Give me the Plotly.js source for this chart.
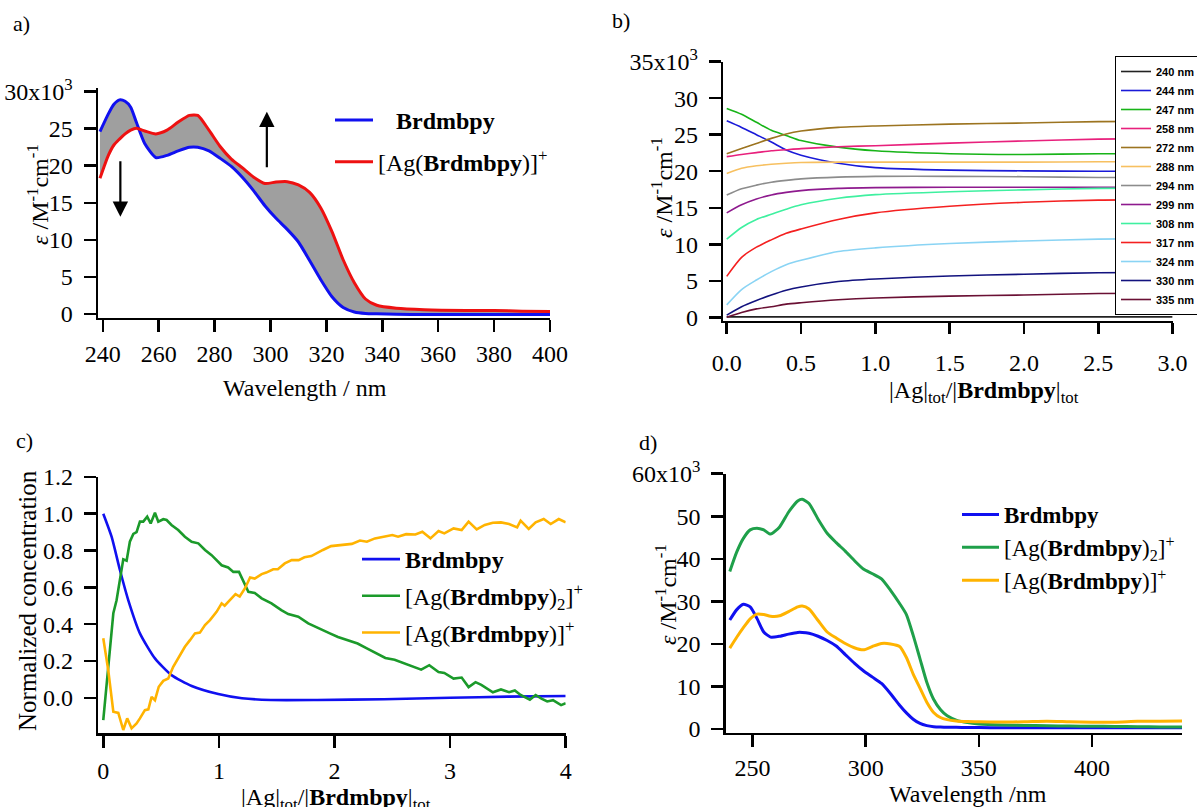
<!DOCTYPE html>
<html><head><meta charset="utf-8">
<script src="https://cdn.plot.ly/plotly-3.0.1.min.js"></script>
<style>html,body{margin:0;padding:0;background:#fff}#chart{width:1197px;height:807px}</style>
</head><body><div id="chart"></div>
<script>
// ---------- Panel a: titration spectra ----------
const wlA = [239,242,244,246,248,250,252,255,259,263,267,271,274,278,282,286,290,294,298,302,306,310,314,318,322,326,330,334,338,345,355,370,380,390,400];
const epsA_free = [24.6,27.0,28.3,28.9,28.7,27.9,25.9,23.0,21.1,21.4,22.0,22.5,22.5,22.0,21.0,19.9,18.4,16.6,14.6,12.9,11.4,9.7,7.2,4.6,2.3,0.85,0.25,0.05,0.0,-0.05,-0.1,-0.1,-0.1,-0.1,-0.1];
const epsA_ag = [18.3,21.4,22.8,23.6,24.3,24.8,25.05,24.7,24.3,24.8,25.9,26.8,26.8,24.8,22.6,20.9,19.7,18.45,17.6,17.8,17.85,17.4,16.4,14.3,11.1,7.3,4.2,2.0,1.15,0.75,0.55,0.45,0.45,0.35,0.3];

// ---------- Panel b: epsilon vs ratio at fixed wavelengths ----------
const ratioB = [0,0.1,0.2,0.3,0.4,0.5,0.75,1.0,1.5,2.0,2.5,3.0];
const labelsB = ['240 nm','244 nm','247 nm','258 nm','272 nm','288 nm','294 nm','299 nm','308 nm','317 nm','324 nm','330 nm','335 nm'];
const colorsB = ['#222222','#1a1ad8','#18b418','#e8207c','#9c7420','#f7c060','#8c8c8c','#8e1a8e','#3ff0a0','#f42020','#8ad4f4','#12127e','#6a1034'];
const eps240 = [0.05,0.05,0.05,0.05,0.05,0.05,0.05,0.05,0.05,0.05,0.05,0.05];
const eps244 = [26.9,26.0,25.0,24.0,22.9,22.2,21.1,20.5,20.15,20.05,20.0,20.0];
const eps247 = [28.6,27.8,26.7,25.6,24.9,24.2,23.3,22.8,22.4,22.3,22.4,22.4];
const eps258 = [22.0,22.3,22.55,22.8,22.95,23.1,23.35,23.5,23.85,24.15,24.4,24.5];
const eps272 = [22.4,23.1,23.8,24.5,25.1,25.5,26.0,26.2,26.45,26.6,26.8,26.85];
const eps288 = [19.7,20.4,20.75,20.95,21.1,21.2,21.25,21.25,21.25,21.25,21.3,21.3];
const eps294 = [16.75,17.6,18.1,18.5,18.75,18.95,19.2,19.3,19.3,19.25,19.15,19.15];
const eps299 = [14.3,15.4,16.2,16.75,17.1,17.35,17.65,17.75,17.8,17.8,17.8,17.8];
const eps308 = [10.7,12.3,13.4,14.1,14.8,15.4,16.3,16.8,17.2,17.45,17.65,17.7];
const eps317 = [5.6,8.2,9.6,10.6,11.5,12.1,13.4,14.3,15.2,15.75,16.05,16.15];
const eps324 = [1.7,3.8,5.1,6.25,7.2,7.8,9.0,9.5,10.1,10.45,10.7,10.8];
const eps330 = [0.3,1.45,2.3,3.05,3.7,4.15,4.9,5.25,5.65,5.9,6.1,6.15];
const eps335 = [0.0,0.65,1.15,1.45,1.8,2.0,2.4,2.65,2.9,3.05,3.25,3.3];
const seriesB = [eps240,eps244,eps247,eps258,eps272,eps288,eps294,eps299,eps308,eps317,eps324,eps330,eps335];

// ---------- Panel c: speciation ----------
const ratioC_L = [0,0.072,0.144,0.216,0.317,0.447,0.59,0.765,0.995,1.2,1.45,1.85,2.43,3.0,3.5,4.0];
const concC_L = [1.0,0.875,0.694,0.531,0.35,0.214,0.123,0.064,0.02,-0.003,-0.012,-0.012,-0.008,0.0,0.006,0.01];
const ratioC_ML2 = [0,0.043,0.087,0.115,0.144,0.173,0.202,0.23,0.26,0.288,0.317,0.346,0.38,0.41,0.447,0.476,0.519,0.548,0.59,0.648,0.706,0.764,0.822,0.88,0.937,0.98,1.024,1.08,1.125,1.174,1.21,1.255,1.31,1.37,1.455,1.54,1.6,1.687,1.773,1.86,1.96,2.03,2.12,2.2,2.28,2.36,2.44,2.52,2.61,2.68,2.75,2.82,2.9,2.95,3.03,3.1,3.16,3.22,3.27,3.37,3.44,3.51,3.56,3.61,3.69,3.74,3.79,3.84,3.89,3.96,4.0];
const concC_ML2 = [-0.121,0.15,0.459,0.53,0.649,0.752,0.745,0.848,0.89,0.90,0.957,0.957,0.984,0.947,1.005,0.957,0.97,0.966,0.939,0.911,0.875,0.848,0.839,0.803,0.775,0.748,0.72,0.708,0.684,0.684,0.639,0.576,0.57,0.54,0.513,0.476,0.455,0.44,0.404,0.377,0.35,0.33,0.31,0.295,0.268,0.24,0.216,0.207,0.185,0.171,0.153,0.177,0.14,0.135,0.104,0.11,0.058,0.085,0.07,0.03,0.045,0.03,0.04,0.015,-0.01,0.015,-0.005,-0.02,-0.013,-0.04,-0.03];
const ratioC_ML = [0,0.043,0.087,0.13,0.173,0.207,0.245,0.288,0.317,0.36,0.39,0.418,0.447,0.48,0.519,0.562,0.605,0.663,0.706,0.75,0.793,0.836,0.88,0.923,0.98,1.024,1.05,1.095,1.144,1.18,1.225,1.27,1.31,1.37,1.41,1.47,1.51,1.57,1.63,1.69,1.74,1.8,1.84,1.9,1.97,2.06,2.15,2.22,2.28,2.35,2.42,2.5,2.55,2.62,2.7,2.76,2.83,2.9,2.95,3.03,3.1,3.16,3.23,3.3,3.37,3.44,3.51,3.58,3.61,3.68,3.74,3.81,3.87,3.94,4.0];
const concC_ML = [0.323,0.15,-0.076,-0.082,-0.175,-0.112,-0.166,-0.139,-0.112,-0.067,-0.063,0.005,-0.013,0.06,0.092,0.105,0.168,0.232,0.277,0.313,0.35,0.354,0.395,0.422,0.467,0.513,0.5,0.53,0.563,0.55,0.594,0.654,0.648,0.672,0.68,0.698,0.698,0.73,0.748,0.748,0.763,0.77,0.785,0.803,0.824,0.83,0.836,0.854,0.848,0.866,0.875,0.884,0.875,0.889,0.887,0.902,0.866,0.906,0.893,0.92,0.911,0.957,0.915,0.939,0.951,0.953,0.944,0.926,0.962,0.917,0.953,0.971,0.944,0.971,0.953];

// ---------- Panel d: species spectra ----------
const wlD = [240,243,246,249,252,255,258,262,266,270,272,275,279,283,287,291,295,299,303,307,311,315,318,321,324,327,330,333,336,340,345,350,360,370,380,390,400,410,420,430,440];
const epsD_L = [25.6,28.0,29.3,28.7,26.0,22.8,21.6,21.8,22.3,22.7,22.7,22.5,21.8,20.8,19.5,17.5,15.5,13.7,12.2,10.7,8.3,5.6,3.8,2.3,1.3,0.8,0.55,0.45,0.4,0.4,0.35,0.35,0.3,0.3,0.3,0.3,0.3,0.3,0.3,0.3,0.3];
const epsD_ML2 = [37.0,41.5,44.8,46.8,47.2,46.8,45.8,47.5,51.0,53.6,54.0,53.0,49.3,46.0,43.8,41.8,39.6,37.6,36.5,35.3,32.6,29.5,26.9,22.0,16.5,11.0,7.0,4.6,3.1,2.1,1.5,1.2,0.95,0.85,0.75,0.7,0.65,0.6,0.55,0.5,0.5];
const epsD_ML = [19.0,21.5,23.8,25.9,27.0,26.9,26.5,26.6,27.6,28.7,28.9,28.2,25.5,22.8,21.4,20.1,19.1,18.6,19.4,20.1,20.0,19.4,16.8,12.9,9.6,6.3,3.9,2.7,2.2,1.9,1.75,1.7,1.65,1.7,1.85,1.7,1.6,1.6,1.8,1.85,1.9];

// ---------- helpers ----------
const W = 1197, H = 807;
const px = x => x / W;
const py = y => 1 - y / H;
const SERIF = 'Liberation Serif';
const SANS = 'Liberation Sans';
const BLUE = '#1010f0', RED = '#ee1111', GREEN_C = '#1b9a2a', GREEN_D = '#1fa04a', ORANGE = '#ffb300';

function ax(extra) {
  return Object.assign({
    showline: true, linecolor: '#000', linewidth: 2.5,
    ticks: 'outside', ticklen: 12, tickwidth: 2.5, tickcolor: '#000',
    showgrid: false, zeroline: false, fixedrange: true,
    tickfont: {family: SERIF, size: 24, color: '#000'}
  }, extra);
}

const traces = [];
// panel a : gray band of the intermediate spectra, between the two limiting spectra
traces.push({x: wlA, y: epsA_ag, xaxis: 'x', yaxis: 'y', mode: 'lines', line: {width: 0, shape: 'spline', smoothing: 0.6}, showlegend: false, hoverinfo: 'skip'});
traces.push({x: wlA, y: epsA_free, xaxis: 'x', yaxis: 'y', mode: 'lines', fill: 'tonexty', fillcolor: 'rgba(70,70,70,0.52)', line: {width: 0, shape: 'spline', smoothing: 0.6}, showlegend: false, hoverinfo: 'skip'});
traces.push({x: wlA, y: epsA_free, xaxis: 'x', yaxis: 'y', mode: 'lines', name: '\u00a0\u00a0\u00a0<b>Brdmbpy</b>', line: {color: BLUE, width: 3, shape: 'spline', smoothing: 0.6}, legend: 'legend', legendgroup: 'a1'});
traces.push({x: wlA, y: epsA_ag, xaxis: 'x', yaxis: 'y', mode: 'lines', name: '[Ag(<b>Brdmbpy</b>)]<sup>+</sup>', line: {color: RED, width: 3, shape: 'spline', smoothing: 0.6}, legend: 'legend', legendgroup: 'a2'});

// panel b
seriesB.forEach((s, i) => {
  traces.push({x: ratioB, y: s, xaxis: 'x2', yaxis: 'y2', mode: 'lines', name: '<b>' + labelsB[i] + '</b>',
    line: {color: colorsB[i], width: 1.6, shape: 'spline', smoothing: 0.7}, legend: 'legend2'});
});

// panel c
traces.push({x: ratioC_L, y: concC_L, xaxis: 'x3', yaxis: 'y3', mode: 'lines', name: '<b>Brdmbpy</b>', line: {color: BLUE, width: 2.6, shape: 'spline', smoothing: 0.6}, legend: 'legend3', legendgroup: 'c1'});
traces.push({x: ratioC_ML2, y: concC_ML2, xaxis: 'x3', yaxis: 'y3', mode: 'lines', name: '[Ag(<b>Brdmbpy</b>)<sub>2</sub>]<sup>+</sup>', line: {color: GREEN_C, width: 2.6}, legend: 'legend3', legendgroup: 'c2'});
traces.push({x: ratioC_ML, y: concC_ML, xaxis: 'x3', yaxis: 'y3', mode: 'lines', name: '[Ag(<b>Brdmbpy</b>)]<sup>+</sup>', line: {color: ORANGE, width: 2.6}, legend: 'legend3', legendgroup: 'c3'});

// panel d
traces.push({x: wlD, y: epsD_L, xaxis: 'x4', yaxis: 'y4', mode: 'lines', name: '<b>Brdmbpy</b>', line: {color: BLUE, width: 3, shape: 'spline', smoothing: 0.6}, legend: 'legend4', legendgroup: 'd1'});
traces.push({x: wlD, y: epsD_ML2, xaxis: 'x4', yaxis: 'y4', mode: 'lines', name: '[Ag(<b>Brdmbpy</b>)<sub>2</sub>]<sup>+</sup>', line: {color: GREEN_D, width: 3, shape: 'spline', smoothing: 0.6}, legend: 'legend4', legendgroup: 'd2'});
traces.push({x: wlD, y: epsD_ML, xaxis: 'x4', yaxis: 'y4', mode: 'lines', name: '[Ag(<b>Brdmbpy</b>)]<sup>+</sup>', line: {color: ORANGE, width: 3, shape: 'spline', smoothing: 0.6}, legend: 'legend4', legendgroup: 'd3'});

const T = (text, x, y, opts) => Object.assign({text: text, x: px(x), y: py(y), xref: 'paper', yref: 'paper', showarrow: false, xanchor: 'center', yanchor: 'middle', font: {family: SERIF, size: 24, color: '#000'}}, opts || {});
const EPS = '<i>ε</i> /M<sup>-1</sup>cm<sup>-1</sup>';
const RATIO = '|Ag|<sub>tot</sub>/|<b>Brdmbpy</b>|<sub>tot</sub>';

const layout = {
  width: W, height: H,
  font: {family: SERIF, size: 24, color: '#000'},
  margin: {l: 0, r: 0, t: 0, b: 0, autoexpand: false},
  paper_bgcolor: '#fff', plot_bgcolor: 'rgba(0,0,0,0)',
  showlegend: true, hovermode: false,
  xaxis: ax({domain: [px(98), px(550)], range: [238.3, 400], anchor: 'y', tickvals: [240,260,280,300,320,340,360,380,400], ticklabelstandoff: 1}),
  yaxis: ax({domain: [py(317.5), py(88)], range: [-0.5, 30.5], anchor: 'x', tickvals: [0,5,10,15,20,25,30], ticktext: ['0','5','10','15','20','25','30x10<sup>3</sup>'], ticklabelstandoff: 6}),
  xaxis2: ax({domain: [px(723.3), px(1172.6)], range: [-0.023, 3.0], anchor: 'y2', tickvals: [0,0.5,1,1.5,2,2.5,3], tickformat: '.1f', ticklen: 11, ticklabelstandoff: 8}),
  yaxis2: ax({domain: [py(320.5), py(61.7)], range: [-0.44, 35], anchor: 'x2', tickvals: [0,5,10,15,20,25,30,35], ticktext: ['0','5','10','15','20','25','30','35x10<sup>3</sup>'], ticklabelstandoff: 6}),
  xaxis3: ax({domain: [px(98.3), px(565.7)], range: [-0.043, 4.0], anchor: 'y3', tickvals: [0,1,2,3,4], ticklabelstandoff: 2}),
  yaxis3: ax({domain: [py(733.3), py(476.9)], range: [-0.193, 1.2], anchor: 'x3', tickvals: [0,0.2,0.4,0.6,0.8,1.0,1.2], tickformat: '.1f', ticklabelstandoff: 6}),
  xaxis4: ax({domain: [px(725.7), px(1182)], range: [238.2, 439.7], anchor: 'y4', tickvals: [250,300,350,400], ticklabelstandoff: 0}),
  yaxis4: ax({domain: [py(732.5), py(473.7)], range: [-0.82, 60], anchor: 'x4', tickvals: [0,10,20,30,40,50,60], ticktext: ['0','10','20','30','40','50','60x10<sup>3</sup>'], ticklabelstandoff: 6}),
  legend: {x: px(330), y: py(98), xanchor: 'left', yanchor: 'top', bgcolor: 'rgba(0,0,0,0)', borderwidth: 0, font: {family: SERIF, size: 24, color: '#000'}, tracegroupgap: 7.5, itemwidth: 38},
  legend2: {x: px(1115), y: py(56), xanchor: 'left', yanchor: 'top', bgcolor: '#fff', bordercolor: '#000', borderwidth: 1, font: {family: SANS, size: 11, color: '#000'}},
  legend3: {x: px(357), y: py(537), xanchor: 'left', yanchor: 'top', bgcolor: 'rgba(0,0,0,0)', borderwidth: 0, font: {family: SERIF, size: 24, color: '#000'}, tracegroupgap: 2.5, itemwidth: 38},
  legend4: {x: px(957), y: py(493), xanchor: 'left', yanchor: 'top', bgcolor: 'rgba(0,0,0,0)', borderwidth: 0, font: {family: SERIF, size: 23, color: '#000'}, tracegroupgap: 0, itemwidth: 37},
  annotations: [
    T('a)', 21, 23, {font: {family: SERIF, size: 22, color: '#000'}}),
    T('b)', 621, 21, {font: {family: SERIF, size: 22, color: '#000'}}),
    T('c)', 24, 440, {font: {family: SERIF, size: 22, color: '#000'}}),
    T('d)', 648, 443, {font: {family: SERIF, size: 22, color: '#000'}}),
    T(EPS, 38, 195, {textangle: -90}),
    T('Wavelength / nm', 305, 388),
    T(EPS, 662, 188, {textangle: -90}),
    T(RATIO, 984, 392),
    T('Normalized concentration', 27, 601, {textangle: -90, font: {family: SERIF, size: 25, color: '#000'}}),
    T(RATIO, 336, 799),
    T(EPS, 666, 595, {textangle: -90}),
    T('Wavelength /nm', 968, 794),
    {x: 246.3, y: 13.1, ax: 246.3, ay: 20.8, xref: 'x', yref: 'y', axref: 'x', ayref: 'y', text: '', showarrow: true, arrowhead: 2, arrowsize: 1.4, arrowwidth: 2.2, arrowcolor: '#000'},
    {x: 298.7, y: 27.3, ax: 298.7, ay: 19.6, xref: 'x', yref: 'y', axref: 'x', ayref: 'y', text: '', showarrow: true, arrowhead: 2, arrowsize: 1.4, arrowwidth: 2.2, arrowcolor: '#000'}
  ]
};

Plotly.newPlot('chart', traces, layout, {staticPlot: true, displayModeBar: false});
</script>
</body></html>
